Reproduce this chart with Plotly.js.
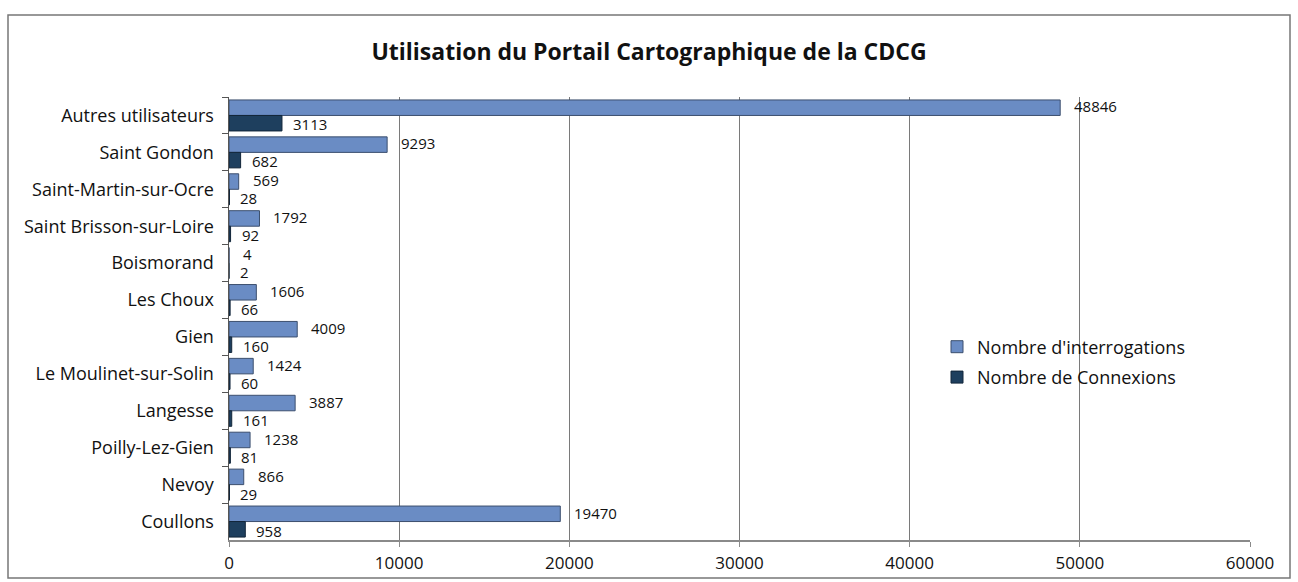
<!DOCTYPE html>
<html>
<head>
<meta charset="utf-8">
<script src="https://cdn.plot.ly/plotly-3.0.1.min.js"></script>
<style>html,body{margin:0;padding:0;background:#fff;}#chart{width:1298px;height:582px;}</style>
</head>
<body>
<div id="chart"></div>
<script>
const categories = ["Autres utilisateurs","Saint Gondon","Saint-Martin-sur-Ocre","Saint Brisson-sur-Loire","Boismorand","Les Choux","Gien","Le Moulinet-sur-Solin","Langesse","Poilly-Lez-Gien","Nevoy","Coullons"];
const interrogations = [48846,9293,569,1792,4,1606,4009,1424,3887,1238,866,19470];
const connexions = [3113,682,28,92,2,66,160,60,161,81,29,958];
const xTicks = [0,10000,20000,30000,40000,50000,60000];

const W = 1298, H = 582;
const L = 229, R = 1250, T = 97, B = 540;
const px = x => (x - L) / (R - L);
const py = y => (B - y) / (B - T);

const font = "'Open Sans', Lato, sans-serif";

const traces = [
  {type:'bar', orientation:'h', name:"Nombre d'interrogations", legendgroup:'a', y:categories, x:interrogations,
   marker:{color:'#6a8cc4', line:{color:'#3c4f6e', width:1}}},
  {type:'bar', orientation:'h', name:"Nombre de Connexions", legendgroup:'b', y:categories, x:connexions,
   marker:{color:'#1e3f5e', line:{color:'#12263a', width:1}}}
];

// value labels, placed through the axes at each bar's end
const labelFont = {size:15, family:font, color:'#111'};
const annotations = [];
categories.forEach((c, i) => {
  annotations.push({xref:'x', yref:'y', x:interrogations[i], y:c, text:String(interrogations[i]),
    showarrow:false, xanchor:'left', yanchor:'middle', xshift:13, yshift:9, borderpad:0, font:labelFont});
  annotations.push({xref:'x', yref:'y', x:connexions[i], y:c, text:String(connexions[i]),
    showarrow:false, xanchor:'left', yanchor:'middle', xshift:10, yshift:-9, borderpad:0, font:labelFont});
});

const layout = {
  width:W, height:H,
  margin:{l:L, r:W-R, t:T, b:H-B, pad:0},
  paper_bgcolor:'#fff', plot_bgcolor:'#fff',
  font:{family:font, color:'#111', size:16},
  title:{text:'<b>Utilisation du Portail Cartographique de la CDCG</b>', x:0.5, xref:'container', xanchor:'center', y:1-52/H, yanchor:'middle',
         font:{size:23, family:font, color:'#111'}},
  barmode:'group', bargap:0.16, bargroupgap:0,
  xaxis:{range:[0,60000], tickvals:xTicks, ticktext:xTicks.map(String), showgrid:true, gridcolor:'#7a7a7a', gridwidth:1,
         zeroline:false, showline:true, linecolor:'#8a8a8a', linewidth:1.5, ticks:'outside', ticklen:5, tickcolor:'#8a8a8a',
         tickfont:{size:17, family:font, color:'#111'}, ticklabelstandoff:2, fixedrange:true},
  yaxis:{range:[categories.length - 0.5, -0.5], autorange:false, showline:true, linecolor:'#555', linewidth:1.5, ticks:'outside', ticklen:6, tickcolor:'#555',
         tickson:'boundaries', tickfont:{size:18, family:font, color:'#111'}, ticklabelstandoff:10, showgrid:false, zeroline:false},
  legend:{x:px(937), y:py(362), xanchor:'left', yanchor:'middle', font:{size:18, family:font, color:'#111'},
          bgcolor:'rgba(0,0,0,0)', tracegroupgap:4, itemwidth:30},
  annotations: annotations,
  shapes:[
    {type:'rect', xref:'paper', yref:'paper', x0:px(8), x1:px(1290), y0:py(578), y1:py(15),
     line:{color:'#777', width:1.5}, fillcolor:'rgba(0,0,0,0)', layer:'below'}
  ],
  showlegend:true
};

Plotly.newPlot('chart', traces, layout, {displayModeBar:false, staticPlot:true});
</script>
</body>
</html>
